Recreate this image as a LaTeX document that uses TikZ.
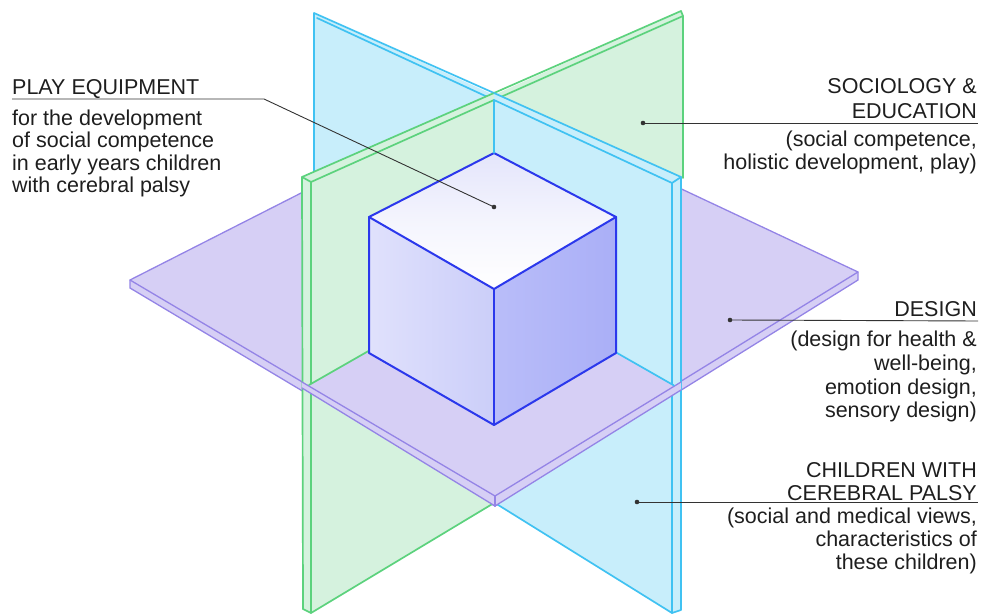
\documentclass[tikz,border=0pt]{standalone}
\usepackage{fontspec}
\setmainfont{Liberation Sans}
\definecolor{bluefill}{HTML}{C8EEFB}
\definecolor{blueedge}{HTML}{40C2F2}
\definecolor{greenfill}{HTML}{D5F2DE}
\definecolor{greenedge}{HTML}{5CD27D}
\definecolor{purpfill}{HTML}{D6CFF5}
\definecolor{purpedge}{HTML}{9484E6}
\definecolor{cubeedge}{HTML}{2B38EC}
\definecolor{cubetop}{HTML}{E4E5FB}
\definecolor{cubeleftA}{HTML}{E0E1FC}
\definecolor{cubeleftB}{HTML}{CBCEF9}
\definecolor{cuberightA}{HTML}{B9BDF9}
\definecolor{cuberightB}{HTML}{AAAFF7}
\definecolor{leadcol}{HTML}{333333}
\definecolor{txtcol}{HTML}{1E1E1E}
\tikzset{
  bedge/.style={draw=blueedge,line width=1.7pt,line join=round,line cap=round},
  gedge/.style={draw=greenedge,line width=1.7pt,line join=round,line cap=round},
  pedge/.style={draw=purpedge,line width=1.3pt,line join=round,line cap=round},
  cedge/.style={draw=cubeedge,line width=2pt,line join=round,line cap=round},
  leader/.style={draw=leadcol,line width=0.9pt},
  leaddot/.style={circle,fill=leadcol,inner sep=0pt,minimum size=4.6pt},
  rtxt/.style={anchor=base east,inner sep=0pt,text=txtcol,font=\fontsize{21.5}{24}\selectfont},
  ltxt/.style={anchor=base west,inner sep=0pt,text=txtcol,font=\fontsize{21.5}{24}\selectfont}
}
\begin{document}
\begin{tikzpicture}[x=1pt,y=-1pt]
\useasboundingbox (0,0) rectangle (983,615);
% ---------- purple plane (whole) ----------
\fill[purpfill] (130,280) -- (488,98) -- (858,272) -- (858,280) -- (495,506) -- (130,288) -- cycle;
\draw[pedge] (130,288) -- (130,280) -- (488,98) -- (858,272) -- (858,280) -- (495,506) -- cycle;
\draw[pedge] (130,280) -- (495,496) -- (858,272);
\draw[pedge] (495,496) -- (495,506);
% ---------- blue back-left half ----------
\fill[bluefill] (314,13) -- (494,95) -- (494,300) -- (314,300) -- cycle;
\draw[bedge] (314,300) -- (314,13) -- (494,93);
\draw[bedge] (317,18) -- (494,100);
% ---------- green back-right half ----------
\fill[greenfill] (494,95) -- (681,11) -- (683,16) -- (683,178) -- (494,260) -- cycle;
\draw[gedge] (494,93) -- (681,11) -- (683,16) -- (683,178);
\draw[gedge] (494,100) -- (683,16);
% ---------- green front-left half ----------
\fill[greenfill] (302,177) -- (494,93) -- (494,503) -- (311,613) -- (303,609) -- cycle;
\draw[gedge] (303,609) -- (302,177) -- (494,93);
\draw[gedge] (302,177) -- (311,182) -- (494,100);
\draw[gedge] (311,182) -- (311,613) -- (303,609);
\draw[gedge] (311,613) -- (494,503);
% ---------- blue front-right half ----------
\fill[bluefill] (494,93) -- (681,177) -- (681,610) -- (672,613) -- (495,503) -- cycle;
\draw[bedge] (494,93) -- (681,177) -- (681,610) -- (672,613) -- (495,503);
\draw[bedge] (494,100) -- (672,183) -- (681,177);
\draw[bedge] (672,183) -- (672,613);
% ---------- purple front quadrant ----------
\fill[purpfill] (308,385.5) -- (491,281) -- (675,386) -- (495,496) -- cycle;
\fill[purpfill] (302,382) -- (495,496) -- (681,382) -- (681,390) -- (495,506) -- (302,388) -- cycle;
\draw[pedge] (302,382) -- (495,496) -- (681,382);
\draw[pedge] (302,388) -- (495,506) -- (681,390);
\draw[pedge] (495,496) -- (495,506);
\draw[gedge] (309,385) -- (491,281);
\draw[bedge] (674,385.5) -- (491,281);
% ---------- cube ----------
\shade[top color=cubetop,bottom color=white,middle color=white!60!cubetop] (494,153) -- (616,217) -- (494,289) -- (369,217) -- cycle;
\shade[left color=cubeleftA,right color=cubeleftB] (369,217) -- (494,289) -- (494,425) -- (369,353) -- cycle;
\shade[left color=cuberightA,right color=cuberightB] (494,289) -- (616,217) -- (616,353) -- (494,425) -- cycle;
\draw[cedge] (494,153) -- (616,217) -- (494,289) -- (369,217) -- cycle;
\draw[cedge] (369,217) -- (369,353) -- (494,425) -- (616,353) -- (616,217);
\draw[cedge] (494,289) -- (494,425);
% vertical intersection line
\draw[bedge,line width=1.5pt] (494,100) -- (494,153);
% ---------- leaders ----------
\node[leaddot] (dPE) at (494,207) {};
\node[leaddot] (dSE) at (643,123) {};
\node[leaddot] (dDE) at (730,320) {};
\node[leaddot] (dCP) at (637,502) {};
\coordinate (pe0) at (12,99);
\coordinate (pe1) at (264,99);
\coordinate (se1) at (978,123);
\coordinate (de1) at (978,321);
\coordinate (cp1) at (978,502);
\draw[leader] (pe0) -- (pe1) -- (dPE.center);
\draw[leader] (dSE.center) -- (se1);
\draw[leader] (dDE.center) -- (de1);
\draw[leader] (dCP.center) -- (cp1);
% ---------- texts ----------
\node[ltxt] (pe-t) at (12,95) {PLAY EQUIPMENT};
\node[ltxt] (pe-a) at (12,125.5) {for the development};
\node[ltxt] (pe-b) at (12,148) {of social competence};
\node[ltxt] (pe-c) at (12,170.5) {in early years children};
\node[ltxt] (pe-d) at (12,193) {with cerebral palsy};
\node[rtxt] (se-t1) at (977,94) {SOCIOLOGY \&};
\node[rtxt] (se-t2) at (977,119) {EDUCATION};
\node[rtxt] (se-a) at (977,147) {(social competence,};
\node[rtxt] (se-b) at (977,170) {holistic development, play)};
\node[rtxt] (de-t) at (977,316) {DESIGN};
\node[rtxt] (de-a) at (977,346) {(design for health \&};
\node[rtxt] (de-b) at (977,370) {well-being,};
\node[rtxt] (de-c) at (977,394) {emotion design,};
\node[rtxt] (de-d) at (977,417) {sensory design)};
\node[rtxt] (cp-t1) at (977,477) {CHILDREN WITH};
\node[rtxt] (cp-t2) at (977,500) {CEREBRAL PALSY};
\node[rtxt] (cp-a) at (977,523) {(social and medical views,};
\node[rtxt] (cp-b) at (977,546) {characteristics of};
\node[rtxt] (cp-c) at (977,569) {these children)};
\end{tikzpicture}
\end{document}
